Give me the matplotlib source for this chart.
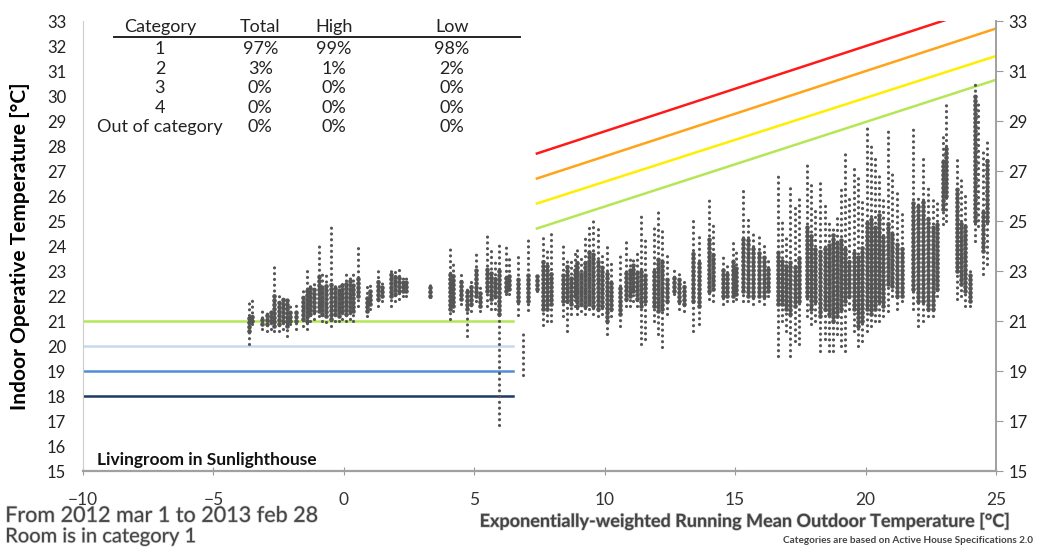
import numpy as np
import matplotlib
matplotlib.use('Agg')
import matplotlib.pyplot as plt
import matplotlib.patheffects as pe

plt.rcParams['font.family'] = ['Lato', 'DejaVu Sans']

nan = np.nan

# measured room temperature, drawn as vertical strips of points
# x: running mean outdoor temp, lo/hi: full spread, core_lo/core_hi: dense part
strip_x = [-3.64, -3.51, -3.15, -2.95, -2.80, -2.68, -2.50, -2.35, -2.18, -2.05,
           -1.85, -1.55, -1.42, -1.30, -1.15, -0.95, -0.82, -0.70, -0.49, -0.35,
           -0.20, -0.07, 0.08, 0.22, 0.35, 0.53, 0.87, 1.00, 1.30, 1.45,
           1.80, 1.95, 2.10, 2.25, 2.40, 3.30, 4.07, 4.20, 4.50, 4.72,
           4.87, 5.05, 5.22, 5.48, 5.65, 5.80, 5.95, 6.20, 6.35, 6.67,
           6.86, 7.06, 7.40, 7.65, 7.80, 7.95, 8.40, 8.55, 8.72, 8.86,
           8.95, 9.10, 9.25, 9.40, 9.55, 9.75, 9.90, 10.10, 10.25, 10.60,
           10.80, 10.95, 11.10, 11.25, 11.40, 11.55, 11.90, 12.05, 12.20, 12.40,
           12.65, 12.85, 13.05, 13.40, 13.60, 14.00, 14.15, 14.55, 14.68, 14.90,
           15.05, 15.30, 15.50, 15.70, 15.90, 16.10, 16.25, 16.64, 16.80, 16.95,
           17.10, 17.30, 17.45, 17.75, 17.90, 18.05, 18.25, 18.45, 18.60, 18.75,
           18.90, 19.05, 19.20, 19.35, 19.55, 19.70, 19.85, 20.05, 20.20, 20.35,
           20.50, 20.65, 20.85, 21.00, 21.20, 21.40, 21.80, 22.00, 22.20, 22.40,
           22.60, 22.75, 22.95, 23.10, 23.50, 23.65, 23.80, 24.00, 24.20, 24.30,
           24.50, 24.65]
strip_lo = [20.1, 20.9, 20.7, 20.6, 20.7, 20.6, 20.6, 20.7, 20.4, 20.9,
            20.7, 20.8, 20.7, 21.0, 21.1, 21.2, 21.0, 20.95, 20.8, 21.0,
            21.0, 21.1, 21.0, 21.1, 21.0, 21.6, 21.2, 21.5, 21.6, 21.8,
            21.6, 21.8, 21.9, 22.0, 22.0, 21.95, 21.1, 21.4, 21.7, 20.4,
            21.4, 21.8, 21.4, 21.6, 21.5, 21.5, 16.85, 22.1, 22.1, 21.25,
            18.85, 21.45, 22.2, 20.85, 21.0, 21.0, 21.2, 20.6, 21.3, 21.6,
            21.3, 21.4, 21.3, 21.5, 21.3, 21.2, 21.3, 20.5, 21.2, 20.8,
            21.6, 21.6, 21.8, 21.6, 20.1, 20.3, 21.0, 20.5, 19.95, 21.3,
            22.1, 21.5, 21.4, 20.6, 20.9, 21.9, 21.8, 21.7, 21.8, 21.8,
            21.9, 21.8, 21.8, 21.7, 21.8, 21.7, 22.0, 19.6, 21.0, 20.6,
            19.6, 20.2, 20.1, 21.2, 20.9, 21.0, 19.8, 20.3, 19.8, 19.8,
            20.5, 20.0, 19.8, 21.5, 20.6, 20.0, 20.2, 20.6, 20.8, 21.0,
            21.0, 21.2, 21.4, 22.0, 21.5, 21.8, 21.5, 20.8, 21.0, 21.2,
            21.2, 22.0, 24.9, 25.0, 21.9, 22.0, 21.6, 21.6, 24.2, 24.8,
            22.9, 23.3]
strip_hi = [21.85, 22.0, 21.4, 21.4, 21.5, 23.3, 22.0, 22.0, 22.0, 21.8,
            21.8, 22.4, 23.0, 22.6, 22.6, 24.2, 22.9, 23.0, 24.85, 22.6,
            22.6, 22.7, 22.9, 22.9, 23.1, 24.0, 22.4, 22.5, 23.0, 22.6,
            23.2, 23.0, 23.1, 22.9, 22.8, 22.5, 24.0, 23.5, 22.9, 22.5,
            22.6, 23.8, 22.4, 24.4, 23.8, 23.5, 24.25, 24.05, 23.6, 23.6,
            20.7, 24.25, 22.9, 24.5, 24.0, 24.6, 24.0, 23.6, 23.5, 23.8,
            24.0, 23.6, 24.4, 24.9, 25.0, 24.8, 23.8, 24.1, 23.4, 23.6,
            24.2, 23.5, 23.6, 23.8, 25.2, 24.4, 24.8, 25.5, 24.6, 23.8,
            23.1, 22.9, 22.6, 25.2, 24.5, 26.0, 25.0, 23.6, 23.2, 24.2,
            23.8, 26.2, 25.2, 24.6, 24.4, 24.0, 23.6, 26.9, 25.0, 24.4,
            26.5, 25.6, 26.0, 27.3, 26.5, 25.5, 26.6, 25.8, 25.0, 24.8,
            25.2, 26.4, 27.7, 26.0, 27.2, 26.9, 25.8, 28.9, 28.2, 27.5,
            27.0, 26.0, 28.6, 27.0, 26.2, 25.5, 28.8, 26.0, 27.5, 26.4,
            26.0, 25.8, 28.4, 29.8, 27.5, 26.8, 26.2, 23.2, 30.5, 29.8,
            27.8, 28.2]
core_lo = [20.6, 21.0, 20.9, 20.9, 21.0, 20.8, 20.9, 21.0, 20.8, 21.0,
           21.0, 21.1, 21.0, 21.3, 21.4, 21.4, 21.3, 21.2, 21.1, 21.3,
           21.2, 21.4, 21.3, 21.4, 21.4, 22.0, 21.4, 21.7, 21.9, 22.0,
           22.0, 22.1, 22.2, 22.2, 22.2, 22.0, 21.5, 21.6, 21.9, 21.5,
           21.7, 22.0, 21.6, 22.2, 21.9, 22.0, 21.3, 22.2, 22.3, 21.8,
           nan, 21.8, 22.3, 21.5, 21.5, 21.7, 21.8, 21.8, 21.7, 22.0,
           21.6, 21.7, 21.6, 21.7, 21.6, 21.5, 21.6, 21.0, 21.5, 21.3,
           21.9, 22.0, 22.2, 21.9, 21.6, 21.8, 21.6, 21.4, 21.5, 21.8,
           22.2, 21.8, 21.7, 21.8, 21.6, 22.2, 22.3, 22.0, 22.0, 22.0,
           22.1, 22.2, 22.0, 22.0, 22.0, 22.0, 22.2, 21.7, 21.7, 21.5,
           21.3, 21.6, 21.8, 22.0, 21.5, 21.8, 21.2, 21.5, 21.3, 21.0,
           21.2, 21.5, 21.8, 22.0, 21.5, 20.8, 21.0, 21.5, 21.3, 21.5,
           21.8, 21.6, 22.5, 22.4, 22.0, 22.0, 22.3, 21.8, 21.8, 21.5,
           21.5, 22.3, 25.5, 26.0, 23.0, 22.5, 22.2, 21.8, 25.0, nan,
           23.8, 25.0]
core_hi = [21.3, 21.3, 21.2, 21.3, 21.4, 22.1, 21.8, 21.9, 21.9, 21.5,
           21.5, 22.1, 22.3, 22.4, 22.4, 22.8, 22.5, 22.5, 22.6, 22.4,
           22.4, 22.5, 22.6, 22.7, 22.6, 22.8, 22.1, 22.2, 22.6, 22.5,
           22.9, 22.8, 22.8, 22.7, 22.6, 22.4, 23.0, 22.9, 22.6, 22.3,
           22.5, 23.2, 22.2, 23.2, 23.0, 22.8, 23.0, 22.9, 22.9, 22.8,
           nan, 23.0, 22.8, 23.5, 23.2, 23.0, 23.0, 23.2, 22.8, 23.2,
           23.4, 23.0, 23.5, 23.9, 23.8, 23.5, 23.2, 23.0, 22.6, 22.4,
           23.0, 23.2, 23.3, 23.0, 23.0, 22.9, 23.1, 23.6, 23.5, 22.8,
           22.9, 22.7, 22.4, 23.8, 23.5, 24.3, 23.8, 23.2, 22.9, 23.4,
           23.2, 24.3, 24.4, 24.0, 23.9, 23.6, 23.2, 23.8, 23.5, 23.2,
           23.5, 23.2, 23.6, 24.8, 24.5, 24.0, 23.8, 24.0, 24.2, 24.5,
           24.3, 24.4, 24.0, 23.5, 23.8, 23.6, 24.0, 25.0, 25.2, 24.8,
           25.3, 24.4, 25.0, 24.6, 24.2, 24.0, 25.8, 25.6, 25.8, 25.2,
           24.8, 24.9, 27.5, 28.0, 26.3, 25.0, 24.8, 23.0, 30.0, nan,
           25.5, 27.5]

# category limits (Active House)
upper_x = [7.4, 25.0]
upper_cat4 = [27.7, 33.7]
upper_cat3 = [26.7, 32.7]
upper_cat2 = [25.7, 31.6]
upper_cat1 = [24.7, 30.65]
lower_x = [-10.0, 6.5]
lower_levels = [21, 20, 19, 18]

# summary table
table_header = ['Category', 'Total', 'High', 'Low']
table_rows = [['1', '97%', '99%', '98%'],
              ['2', '3%', '1%', '2%'],
              ['3', '0%', '0%', '0%'],
              ['4', '0%', '0%', '0%'],
              ['Out of category', '0%', '0%', '0%']]

fig = plt.figure(figsize=(10.37, 5.5), dpi=100)
ax = fig.add_axes([0.080, 0.1436, 0.8805, 0.8182])

dot_color = '#555555'
ax.vlines(strip_x, strip_lo, strip_hi, colors=dot_color, linewidth=2.3,
          linestyles=[(0, (0.01, 1.8))], capstyle='round', zorder=3)
ax.vlines(strip_x, core_lo, core_hi, colors=dot_color, linewidth=3.4,
          linestyles=[(0, (0.01, 0.9))], capstyle='round', zorder=3)

ax.plot(upper_x, upper_cat4, color='#ff1a1a', lw=1.8, zorder=2)
ax.plot(upper_x, upper_cat3, color='#ffa319', lw=1.8, zorder=2)
ax.plot(upper_x, upper_cat2, color='#ffee00', lw=1.8, zorder=2)
ax.plot(upper_x, upper_cat1, color='#b5e655', lw=1.8, zorder=2)
lower_colors = ['#b5e655', '#c6d9f1', '#4f8fd8', '#1f3864']
for lvl, c in zip(lower_levels, lower_colors):
    ax.plot(lower_x, [lvl, lvl], color=c, lw=1.8, zorder=2)

ax.set_xlim(-10, 25)
ax.set_ylim(15, 33)
ax.set_xticks(range(-10, 26, 5))
ax.set_yticks(range(15, 34))
ax.tick_params(axis='y', length=0, pad=12, labelsize=12, labelcolor='#222222')
ax.tick_params(axis='x', direction='inout', length=6, color='#999999',
               pad=12, labelsize=12.5, labelcolor='#333333')
for s in ['top', 'right']:
    ax.spines[s].set_visible(False)
ax.spines['left'].set_color('#cccccc')
ax.spines['bottom'].set_color('#a0a0a0')
ax.spines['bottom'].set_linewidth(1.6)

ax2 = ax.twinx()
ax2.set_ylim(15, 33)
ax2.set_yticks(range(15, 34, 2))
ax2.tick_params(axis='y', direction='out', length=5, color='#999999',
                labelsize=12, labelcolor='#222222', pad=4)
for s in ['top', 'left', 'bottom']:
    ax2.spines[s].set_visible(False)
ax2.spines['right'].set_color('#a0a0a0')
ax2.spines['right'].set_linewidth(1.4)

ax.set_ylabel('Indoor Operative Temperature [°C]', fontsize=15,
              fontweight='bold', labelpad=12)

# table
col_x = [-7.05, -3.2, -0.38, 4.14]
for cx, h in zip(col_x, table_header):
    ax.text(cx, 32.75, h, ha='center', va='center', fontsize=13, color='#222222')
ax.plot([-8.8, 6.75], [32.35, 32.35], color='#222222', lw=1.4, clip_on=False)
for i, row in enumerate(table_rows):
    for cx, v in zip(col_x, row):
        ax.text(cx, 31.88 - i * 0.78, v, ha='center', va='center',
                fontsize=13, color='#222222')

ax.text(-9.45, 15.45, 'Livingroom in Sunlighthouse', fontsize=12.5,
        fontweight='bold', ha='left', va='center', color='#111111')

fx = [pe.withStroke(linewidth=1.0, foreground='#cccccc')]
fig.text(0.005, 0.062, 'From 2012 mar 1 to 2013 feb 28', fontsize=15.5,
         color='#444444', ha='left', va='center', path_effects=fx)
fig.text(0.005, 0.024, 'Room is in category 1', fontsize=14.5,
         color='#444444', ha='left', va='center', path_effects=fx)
fig.text(0.973, 0.053, 'Exponentially-weighted Running Mean Outdoor Temperature [°C]',
         fontsize=13, fontweight='bold', color='#444444', ha='right', va='center',
         path_effects=fx)
fig.text(0.996, 0.017, 'Categories are based on Active House Specifications 2.0',
         fontsize=7.2, fontweight='bold', color='#444444', ha='right', va='center')

fig.savefig('out.png', dpi=100)
